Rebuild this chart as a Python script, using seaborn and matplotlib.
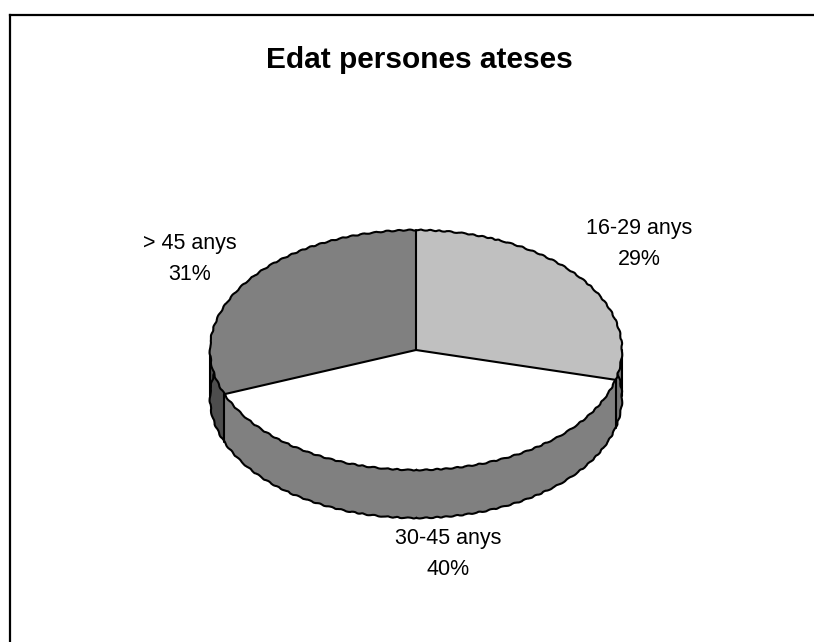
import numpy as np
import matplotlib
matplotlib.use('Agg')
import matplotlib.pyplot as plt
from matplotlib.patches import Circle
import seaborn as sns

# Chart data
categories = ['16-29 anys', '30-45 anys', '> 45 anys']
values = [29, 40, 31]
top_colors = ['#c0c0c0', '#ffffff', '#808080']
wall_colors = ['#777777', '#808080', '#4d4d4d']
title = 'Edat persones ateses'

W, H = 814, 642
sns.set_theme(style='white')
plt.rcParams['font.family'] = ['Liberation Sans', 'DejaVu Sans']

fig = plt.figure(figsize=(W / 100, H / 100), dpi=100)
fig.patch.set_facecolor('white')


def px_rect(x0, y0, x1, y1):
    return [x0 / W, 1 - y1 / H, (x1 - x0) / W, (y1 - y0) / H]


# Chart frame: only top and left edges are inside the picture
frame = fig.add_axes(px_rect(10, 15, W + 5, H + 5))
frame.set_xticks([])
frame.set_yticks([])
sns.despine(ax=frame, top=False, left=False, right=True, bottom=True)
for side in ['top', 'left']:
    frame.spines[side].set_color('black')
    frame.spines[side].set_linewidth(1.6)

# Pie axes cover the ellipse, the aspect is squashed to fake the 3D tilt
ax = fig.add_axes(px_rect(210, 230, 622, 470))
ax.patch.set_alpha(0)
depth = 0.40
sketch = (0.5, 12, 2)
line_w = 1.5

# Rim: filled layers going up, outline of the bottom layer goes first
bottom_edge = Circle((0, -depth), 1, fill=False, edgecolor='black', linewidth=line_w, zorder=1)
bottom_edge.set_sketch_params(*sketch)
ax.add_patch(bottom_edge)
for d in np.linspace(depth, 0, 49)[:-1]:
    ax.pie(values, colors=wall_colors, startangle=90, counterclock=False,
           center=(0, -d), wedgeprops={'linewidth': 0, 'zorder': 0.5})

# Vertical edges on the rim, at the front slice borders and the silhouette
fractions = np.cumsum(values) / np.sum(values)
angles = np.pi / 2 - 2 * np.pi * fractions
for ang in angles[:2]:
    ax.plot([np.cos(ang)] * 2, [np.sin(ang), np.sin(ang) - depth], color='black', lw=line_w, zorder=3)
for sx in [-1, 1]:
    ax.plot([sx, sx], [0, -depth * 0.95], color='black', lw=line_w, zorder=3)

# Top face
ax.pie(values, colors=top_colors, startangle=90, counterclock=False,
       wedgeprops={'linewidth': 0, 'zorder': 4})
top_edge = Circle((0, 0), 1, fill=False, edgecolor='black', linewidth=line_w, zorder=5)
top_edge.set_sketch_params(*sketch)
ax.add_patch(top_edge)
for ang in angles:
    ax.plot([0, np.cos(ang)], [0, np.sin(ang)], color='black', lw=line_w, zorder=5)

ax.set_aspect('auto')
ax.set_xlim(-1, 1)
ax.set_ylim(-1, 1)
ax.axis('off')
for art in ax.patches + ax.lines:
    art.set_clip_on(False)

# Text
fig.text(419 / W, 1 - 60 / H, title, ha='center', va='center', fontsize=21.5,
         fontweight='bold', color='black')
label_pos = [(639, 244), (448, 554), (190, 259)]
for name, val, (x, y) in zip(categories, values, label_pos):
    fig.text(x / W, 1 - y / H, f'{name}\n{val}%', ha='center', va='center', fontsize=15.5,
             linespacing=1.65, color='black')

fig.savefig('out.png', dpi=100)
